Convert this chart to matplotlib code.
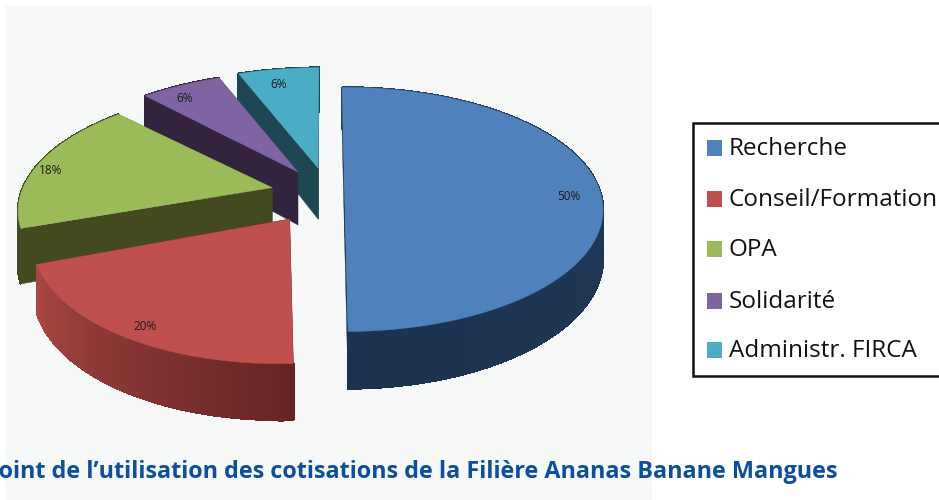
import matplotlib
matplotlib.use("Agg")
import matplotlib.pyplot as plt
from matplotlib.patches import Polygon, Rectangle
import numpy as np

#Chart values
categories = ["Recherche", "Conseil/Formation", "OPA", "Solidarité", "Administr. FIRCA"]
shares = [50, 20, 18, 6, 6]
pct_labels = ["50%", "20%", "18%", "6%", "6%"]
title = "Point de l’utilisation des cotisations de la Filière Ananas Banane Mangues"

#Styles
top_colors = ["#4F81BD", "#C0504D", "#9BBB59", "#8064A2", "#4BACC6"]
side_colors = ["#1E3553", "#412019", "#444A20", "#32243F", "#1D4753"]
wall_start = ["#27405F", "#652524", "#444A20", "#32243F", "#1D4753"]
wall_end = ["#1B3250", "#A94744", "#444A20", "#32243F", "#1D4753"]
apex = [(0.018, 0.0), (-0.19, -0.235), (-0.267, 0.02), (-0.169, 0.155), (-0.088, 0.19)]
radius = [1.0, 0.95, 0.98, 1.03, 1.04]
rotate = [-0.5, -2.5, -1.5, 0.0, 0.0]
depth = [1.0, 0.95, 1.1, 1.13, 1.1]
label_pos = [(569, 197), (145, 327), (51, 171), (185, 98), (279, 84)]

#Projection of the disc: far points shrink
VX, VY = 340, 190
R, Q, K, H = 255, 119, 0.159, 48


def project(x, y, z=0.0):
    s = 1 / (1 + K * y)
    return VX + R * x * s, VY - Q * y * s + H * z * s


def rgb(c):
    return np.array(matplotlib.colors.to_rgb(c))


fig = plt.figure(figsize=(9.39, 5.0), dpi=100)
ax = fig.add_axes([0, 0, 1, 1])
ax.set_xlim(0, 939)
ax.set_ylim(500, 0)
ax.axis("off")

#Grey panel behind the pie
ax.add_patch(Rectangle((5, 5), 647, 495, facecolor="#F7F9F9", edgecolor="none", zorder=0))

edges = np.cumsum([0] + shares) / sum(shares) * 360
z = 1

#Painter order: back slices first
for i in [4, 3, 2, 1, 0]:
    th = np.radians(np.arange(edges[i], edges[i + 1] + 0.01, 1.0) + rotate[i])
    ax0, ay0 = apex[i]
    xs = ax0 + radius[i] * np.sin(th)
    ys = ay0 + radius[i] * np.cos(th)
    d = depth[i]

    #Flat walls along the cuts
    for j in [0, -1]:
        p0 = project(ax0, ay0)
        p1 = project(xs[j], ys[j])
        p2 = project(xs[j], ys[j], d)
        p3 = project(ax0, ay0, d)
        ax.add_patch(Polygon([p0, p1, p2, p3], facecolor=side_colors[i], edgecolor=side_colors[i], lw=0.3, zorder=z))
    z += 1

    #Outer rim, colour changes along the arc
    c0, c1 = rgb(wall_start[i]), rgb(wall_end[i])
    for k in range(len(th) - 1):
        t = k / max(len(th) - 2, 1)
        col = c0 + (c1 - c0) * t
        pts = [project(xs[k], ys[k]), project(xs[k + 1], ys[k + 1]),
               project(xs[k + 1], ys[k + 1], d), project(xs[k], ys[k], d)]
        ax.add_patch(Polygon(pts, facecolor=col, edgecolor=col, lw=1.0, antialiased=False, zorder=z))
    z += 1

    #Top face
    top = [project(ax0, ay0)] + [project(a, b) for a, b in zip(xs, ys)]
    ax.add_patch(Polygon(top, facecolor=top_colors[i], edgecolor=top_colors[i], lw=0.3, zorder=z))
    z += 1

for lab, (lx, ly) in zip(pct_labels, label_pos):
    ax.text(lx, ly, lab, fontsize=8.5, family="Open Sans", color="#1a1a1a", ha="center", va="center", zorder=50)

#Legend box, runs off the right side of the picture
ax.add_patch(Rectangle((693, 123), 260, 253, facecolor="white", edgecolor="#111111", lw=1.8, zorder=40))
row_y = [148, 199, 249, 301, 350]
for name, col, y in zip(categories, top_colors, row_y):
    ax.add_patch(Rectangle((707, y - 8), 15, 16, facecolor=col, edgecolor="none", zorder=41))
    ax.text(729, y + 1, name, fontsize=17.5, family="Open Sans", color="#111111", ha="left", va="center", zorder=42)

ax.text(838, 472, title, fontsize=16.85, family="Open Sans", weight="bold", color="#0B4F9E", ha="right", va="center", zorder=60)

fig.savefig("out.png", dpi=100)
